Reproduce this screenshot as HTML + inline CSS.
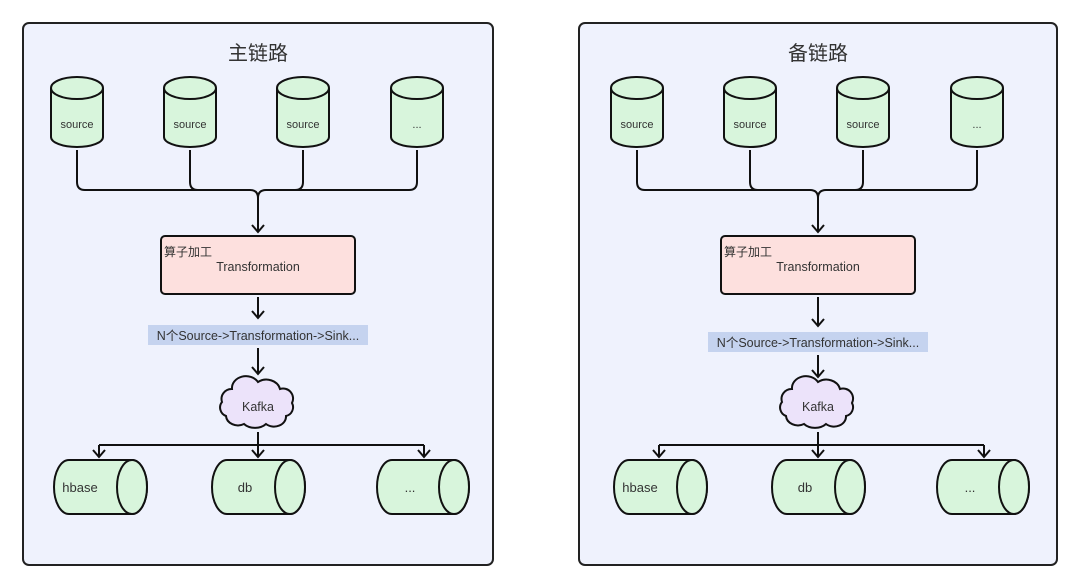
<!DOCTYPE html>
<html><head><meta charset="utf-8"><style>
html,body{margin:0;padding:0;background:#fff;}
svg{display:block;}
text{font-family:"Liberation Sans","Noto Sans CJK SC",sans-serif;fill:#333;}
</style></head><body>
<svg width="1080" height="588" viewBox="0 0 1080 588" xmlns="http://www.w3.org/2000/svg">
<defs>
<marker id="ar" markerWidth="14" markerHeight="14" refX="11" refY="7" orient="auto" markerUnits="userSpaceOnUse" viewBox="0 0 14 14">
<path d="M4,1 L11,7 L4,13" fill="none" stroke="#111" stroke-width="2"/>
</marker>
<g id="srcs" stroke="#111" stroke-width="2">
<g fill="#d8f5dc">
<path d="M51,88 v49 a26,10 0 0 0 52,0 v-49 a26,11 0 0 0 -52,0 z"/><path d="M51,88 a26,11 0 0 0 52,0" fill="none"/>
<path d="M164,88 v49 a26,10 0 0 0 52,0 v-49 a26,11 0 0 0 -52,0 z"/><path d="M164,88 a26,11 0 0 0 52,0" fill="none"/>
<path d="M277,88 v49 a26,10 0 0 0 52,0 v-49 a26,11 0 0 0 -52,0 z"/><path d="M277,88 a26,11 0 0 0 52,0" fill="none"/>
<path d="M391,88 v49 a26,10 0 0 0 52,0 v-49 a26,11 0 0 0 -52,0 z"/><path d="M391,88 a26,11 0 0 0 52,0" fill="none"/>
</g>
<g fill="none">
<path d="M77,150 V182 q0,8 8,8 H250 q8,0 8,8"/>
<path d="M190,150 V182 q0,8 8,8 H250"/>
<path d="M303,150 V182 q0,8 -8,8 H266"/>
<path d="M417,150 V182 q0,8 -8,8 H266 q-8,0 -8,8 V232" marker-end="url(#ar)"/>
</g>
<rect x="161" y="236" width="194" height="58" rx="4" fill="#fde0de"/>
<path d="M226,416 a9,9 0 0 1 -4,-14 a10,10 0 0 1 10,-13 a14,12 0 0 1 26,-7 a14,12 0 0 1 22,7 a10,10 0 0 1 12,14 a9,9 0 0 1 -6,13 a12,10 0 0 1 -20,8 a14,10 0 0 1 -22,0 a12,10 0 0 1 -18,-8 z" fill="#ece3fa"/>
<path d="M258,432 V457" fill="none" marker-end="url(#ar)"/>
<path d="M99,445 H424" fill="none"/>
<path d="M99,445 V457" fill="none" marker-end="url(#ar)"/>
<path d="M424,445 V457" fill="none" marker-end="url(#ar)"/>
<g fill="#d8f5dc">
<path d="M69,460 h63 a15,27 0 0 1 0,54 h-63 a15,27 0 0 1 0,-54 z"/><ellipse cx="132" cy="487" rx="15" ry="27"/>
<path d="M227,460 h63 a15,27 0 0 1 0,54 h-63 a15,27 0 0 1 0,-54 z"/><ellipse cx="290" cy="487" rx="15" ry="27"/>
<path d="M392,460 h62 a15,27 0 0 1 0,54 h-62 a15,27 0 0 1 0,-54 z"/><ellipse cx="454" cy="487" rx="15" ry="27"/>
</g>
</g>
<g id="txt">
<text x="77" y="128" text-anchor="middle" font-size="11">source</text>
<text x="190" y="128" text-anchor="middle" font-size="11">source</text>
<text x="303" y="128" text-anchor="middle" font-size="11">source</text>
<text x="417" y="128" text-anchor="middle" font-size="11">...</text>
<text x="164" y="256" font-size="12">算子加工</text>
<text x="258" y="271" text-anchor="middle" font-size="12.5">Transformation</text>
<text x="258" y="411" text-anchor="middle" font-size="12.5">Kafka</text>
<text x="80" y="492" text-anchor="middle" font-size="13">hbase</text>
<text x="245" y="492" text-anchor="middle" font-size="13">db</text>
<text x="410" y="492" text-anchor="middle" font-size="13">...</text>
</g>
</defs>

<rect x="23" y="23" width="470" height="542" rx="6" fill="#eff2fd" stroke="#222" stroke-width="2"/>
<rect x="579" y="23" width="478" height="542" rx="6" fill="#eff2fd" stroke="#222" stroke-width="2"/>

<text x="258" y="60" text-anchor="middle" font-size="20">主链路</text>
<text x="818" y="60" text-anchor="middle" font-size="20">备链路</text>

<use href="#srcs"/>
<use href="#txt"/>
<g stroke="#111" stroke-width="2" fill="none">
<path d="M258,297 V318" marker-end="url(#ar)"/>
<path d="M258,348 V374" marker-end="url(#ar)"/>
</g>
<rect x="148" y="325" width="220" height="20" fill="#c5d3ef"/>
<text x="258" y="340" text-anchor="middle" font-size="12.5">N个Source-&gt;Transformation-&gt;Sink...</text>

<g transform="translate(560,0)">
<use href="#srcs"/>
<use href="#txt"/>
<g stroke="#111" stroke-width="2" fill="none">
<path d="M258,297 V326" marker-end="url(#ar)"/>
<path d="M258,355 V377" marker-end="url(#ar)"/>
</g>
<rect x="148" y="332" width="220" height="20" fill="#c5d3ef"/>
<text x="258" y="347" text-anchor="middle" font-size="12.5">N个Source-&gt;Transformation-&gt;Sink...</text>
</g>
</svg>
</body></html>
